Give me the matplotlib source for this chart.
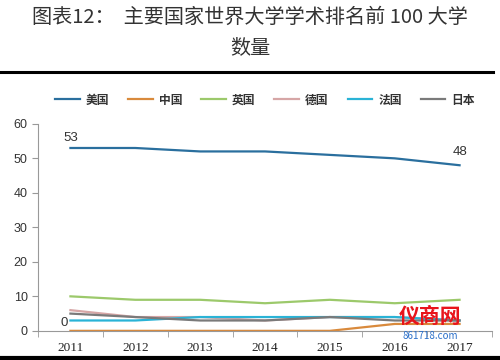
import matplotlib.pyplot as plt
from matplotlib.lines import Line2D

plt.rcParams['font.family'] = ['Noto Sans CJK SC', 'DejaVu Sans']

years = ['2011', '2012', '2013', '2014', '2015', '2016', '2017']
usa = [53, 53, 52, 52, 51, 50, 48]
china = [0, 0, 0, 0, 0, 2, 2]
uk = [10, 9, 9, 8, 9, 8, 9]
germany = [6, 4, 4, 3, 4, 4, 3]
france = [3, 3, 4, 4, 4, 4, 3]
japan = [5, 4, 3, 3, 4, 3, 3]

series = [('美国', usa, '#2a6f9e'),
          ('中国', china, '#d98a3c'),
          ('英国', uk, '#9cc96b'),
          ('德国', germany, '#d6a6a6'),
          ('法国', france, '#2ab3d6'),
          ('日本', japan, '#7a7a7a')]

fig = plt.figure(figsize=(5, 3.6), dpi=100)
fig.patch.set_facecolor('white')

fig.text(0.5, 0.952, '图表12：  主要国家世界大学学术排名前 100 大学',
         ha='center', va='center', fontsize=14.5, color='#333333')
fig.text(0.5, 0.868, '数量', ha='center', va='center', fontsize=14.5, color='#333333')
fig.add_artist(Line2D([0, 0.986], [0.8, 0.8], color='black', lw=2.2))
fig.add_artist(Line2D([0, 1], [0.005, 0.005], color='black', lw=3))

ax = fig.add_axes([0.076, 0.081, 0.908, 0.575])
x = range(len(years))
for name, vals, col in series:
    ax.plot(x, vals, color=col, lw=1.6, label=name)

ax.set_xlim(-0.5, len(years) - 0.5)
ax.set_ylim(0, 60)
ax.set_yticks(range(0, 61, 10))
ax.set_xticks(list(x))
ax.set_xticklabels(years, fontfamily='Liberation Serif', fontsize=9.5, color='#222222')
ax.set_xticks([i - 0.5 for i in range(len(years) + 1)], minor=True)
ax.tick_params(axis='x', which='major', length=0, pad=8)
ax.tick_params(axis='x', which='minor', length=4, color='#999999', direction='out')
ax.tick_params(axis='y', length=4, color='#999999', labelsize=9, labelcolor='#333333')
for lab in ax.get_yticklabels():
    lab.set_fontfamily('Liberation Sans')
for s in ['top', 'right']:
    ax.spines[s].set_visible(False)
for s in ['left', 'bottom']:
    ax.spines[s].set_color('#999999')

ax.annotate(str(usa[0]), (0, usa[0]), xytext=(0, 3), textcoords='offset points',
            ha='center', va='bottom', fontsize=9.5, fontfamily='Liberation Sans', color='#333333')
ax.annotate(str(usa[-1]), (6, usa[-1]), xytext=(0, 5), textcoords='offset points',
            ha='center', va='bottom', fontsize=9.5, fontfamily='Liberation Sans', color='#333333')
ax.annotate(str(china[0]), (0, china[0]), xytext=(-2, 1), textcoords='offset points',
            ha='right', va='bottom', fontsize=9.5, fontfamily='Liberation Sans', color='#333333')

leg = ax.legend(loc='center', bbox_to_anchor=(0.5, 1.115), ncol=6, frameon=False,
                handlelength=2.1, columnspacing=1.6, handletextpad=0.5,
                prop={'size': 8.5, 'weight': 'bold'})
for t in leg.get_texts():
    t.set_color('#333333')

fig.text(0.86, 0.12, '仪商网', color='#e8141b', fontsize=15, fontweight='bold',
         ha='center', va='center')
fig.text(0.86, 0.068, '861718.com', color='#2a6fc9', fontsize=7, ha='center', va='center')

fig.savefig('out.png', dpi=100, facecolor='white')
